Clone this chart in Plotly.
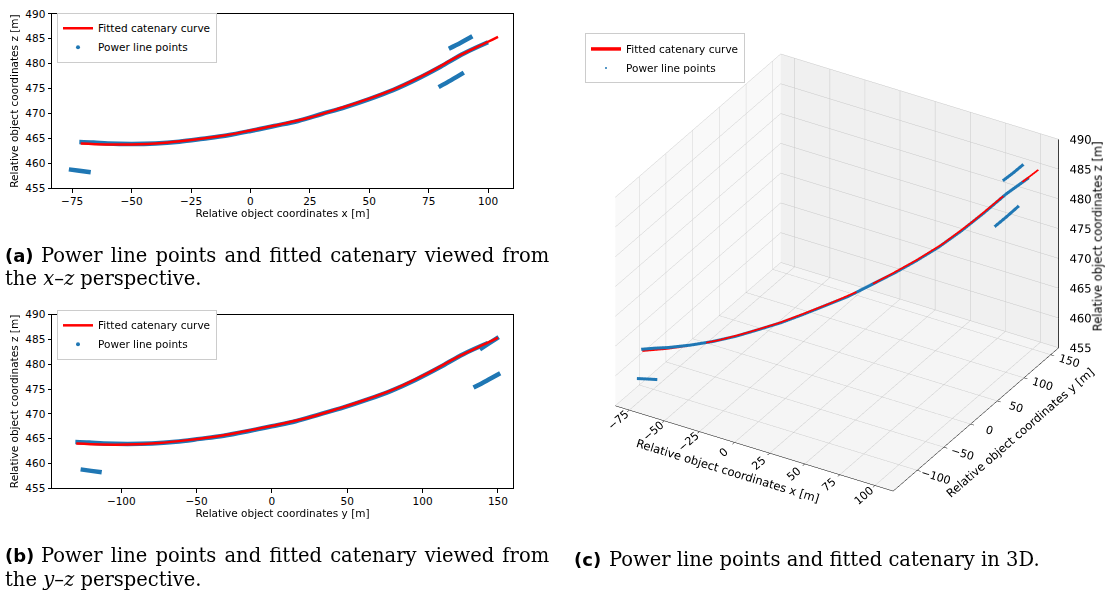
import plotly.graph_objects as go

# ---------------- data ----------------
# fitted catenary curve
cat_x = [-71.4, -61.0, -50.0, -37.0, -25.0, -11.0, 0.0, 12.5, 25.0, 38.0, 50.0, 62.0, 75.0, 87.5, 100.0, 104.2]
cat_y = [-129.9, -113.3, -95.8, -75.1, -56.0, -33.7, -16.1, 3.8, 23.9, 44.6, 63.6, 82.8, 103.5, 123.4, 143.6, 150.0]
cat_z = [464.0, 463.8, 463.8, 464.1, 464.7, 465.6, 466.6, 467.8, 469.2, 471.1, 473.0, 475.2, 478.2, 481.5, 484.4, 485.4]

# power line points: main conductor
main_x = [-72.0, -66.0, -60.0, -50.0, -40.0, -30.0, -20.0, -10.0, 0.0, 10.0, 20.0, 30.0, 40.0, 50.0, 60.0, 70.0, 80.0, 90.0, 100.0]
main_y = [-130.5, -121.3, -111.7, -95.8, -79.8, -63.9, -48.0, -32.0, -16.1, -0.2, 15.7, 31.7, 47.6, 63.6, 79.5, 95.5, 111.4, 127.3, 143.3]
main_z = [464.3, 464.2, 464.0, 463.9, 464.0, 464.35, 464.95, 465.6, 466.5, 467.5, 468.5, 469.9, 471.3, 472.9, 474.7, 476.9, 479.4, 482.1, 484.3]

# power line points: other conductor fragments
lowleft_x = [-76.4, -72.0, -67.2]
lowleft_y = [-127.0, -120.0, -113.0]
lowleft_z = [458.8, 458.5, 458.2]

upright_x = [83.5, 88.5, 93.4]
upright_y = [138.0, 144.0, 150.5]
upright_z = [483.0, 484.2, 485.5]

lowright_x = [79.2, 84.5, 89.8]
lowright_y = [133.8, 142.5, 151.5]
lowright_z = [475.3, 476.7, 478.2]

x_ticks = [-75, -50, -25, 0, 25, 50, 75, 100]
y_ticks = [-100, -50, 0, 50, 100, 150]
z_ticks = [455, 460, 465, 470, 475, 480, 485, 490]

X3 = [-85, 113]
Y3 = [-145, 165]
Z3 = [455, 490]

RED = "#ff0000"
BLUE = "#1f77b4"
FONT = "DejaVu Sans"
SERIF = "DejaVu Serif"

segments = [(main_x, main_y, main_z), (lowleft_x, lowleft_y, lowleft_z),
            (upright_x, upright_y, upright_z), (lowright_x, lowright_y, lowright_z)]

fig = go.Figure()

# ---- 2D panels ----
for (xa, ya, leg, horiz) in [("x", "y", "legend", "x"), ("x2", "y2", "legend2", "y")]:
    for sx, sy, sz in segments:
        fig.add_trace(go.Scatter(x=sx if horiz == "x" else sy, y=sz, mode="lines",
                                 line=dict(color=BLUE, width=4.5, shape="spline"), xaxis=xa, yaxis=ya,
                                 showlegend=False, hoverinfo="skip"))
    fig.add_trace(go.Scatter(x=cat_x if horiz == "x" else cat_y, y=cat_z, mode="lines",
                             line=dict(color=RED, width=2.5, shape="spline"), name="Fitted catenary curve",
                             xaxis=xa, yaxis=ya, legend=leg))
    fig.add_trace(go.Scatter(x=[None], y=[None], mode="markers",
                             marker=dict(color=BLUE, size=4), name="Power line points",
                             xaxis=xa, yaxis=ya, legend=leg))

# ---- 3D panel ----
for sx, sy, sz in segments:
    fig.add_trace(go.Scatter3d(x=sx, y=sy, z=sz, mode="lines", line=dict(color=BLUE, width=6),
                               showlegend=False, hoverinfo="skip", scene="scene"))
fig.add_trace(go.Scatter3d(x=cat_x, y=cat_y, z=cat_z, mode="lines", line=dict(color=RED, width=3.5),
                           name="Fitted catenary curve", scene="scene", legend="legend3"))
fig.add_trace(go.Scatter3d(x=[None], y=[None], z=[None], mode="markers",
                           marker=dict(color=BLUE, size=2), name="Power line points",
                           scene="scene", legend="legend3"))

# z axis drawn at the right vertical edge (x max, y max), matplotlib style
zx = [X3[1]] * len(z_ticks)
zy = [Y3[1]] * len(z_ticks)
fig.add_trace(go.Scatter3d(x=[X3[1], X3[1]], y=[Y3[1], Y3[1]], z=Z3, mode="lines",
                           line=dict(color="black", width=1.5), showlegend=False,
                           hoverinfo="skip", scene="scene"))
tx, ty, tz = [], [], []
for zt in z_ticks:
    tx += [X3[1], X3[1] + 0.03 * (X3[1] - X3[0]), None]
    ty += [Y3[1], Y3[1] + 0.03 * (Y3[1] - Y3[0]), None]
    tz += [zt, zt, None]
fig.add_trace(go.Scatter3d(x=tx, y=ty, z=tz, mode="lines", line=dict(color="black", width=1.5),
                           showlegend=False, hoverinfo="skip", scene="scene"))
fig.add_trace(go.Scatter3d(x=zx, y=zy, z=z_ticks, mode="text",
                           text=["    " + str(v) for v in z_ticks], textposition="middle right",
                           textfont=dict(family=FONT, size=11.5, color="black"),
                           showlegend=False, hoverinfo="skip", scene="scene"))

W, H = 1106, 603
def px_x(p):
    return p / W
def px_y(p):
    return 1 - p / H

axis2d = dict(showline=True, mirror=True, linecolor="black", linewidth=1, ticks="outside",
              ticklen=3.5, tickwidth=0.8, tickcolor="black", showgrid=False, zeroline=False,
              tickfont=dict(family=FONT, size=10.5, color="black"),
              title_font=dict(family=FONT, size=10.5, color="black"))

leg_common = dict(bgcolor="white", bordercolor="#cccccc", borderwidth=1,
                  font=dict(family=FONT, size=10.5, color="black"),
                  xanchor="left", yanchor="top", itemwidth=30, tracegroupgap=0)

axis3d = dict(showbackground=True, gridcolor="rgb(200,200,200)", gridwidth=1,
              showline=True, linecolor="black", linewidth=1, ticks="outside", ticklen=4,
              tickcolor="black", zeroline=False, showspikes=False,
              tickfont=dict(family=FONT, size=11.5, color="black"),
              title_font=dict(family=FONT, size=11.5, color="black"))

fig.update_layout(
    width=W, height=H, margin=dict(l=0, r=0, t=0, b=0),
    paper_bgcolor="white", plot_bgcolor="white",
    xaxis=dict(axis2d, domain=[px_x(52), px_x(513)], range=[-83.5, 110.5], tickvals=x_ticks,
               title_text="Relative object coordinates x [m]", anchor="y", title_standoff=2),
    yaxis=dict(axis2d, domain=[px_y(186), px_y(8)], range=[455, 490], tickvals=z_ticks,
               title_text="Relative object coordinates z [m]", anchor="x", title_standoff=4),
    xaxis2=dict(axis2d, domain=[px_x(52), px_x(513)], range=[-146, 160], tickvals=y_ticks,
                title_text="Relative object coordinates y [m]", anchor="y2", title_standoff=2),
    yaxis2=dict(axis2d, domain=[px_y(492), px_y(315)], range=[455, 490], tickvals=z_ticks,
                title_text="Relative object coordinates z [m]", anchor="x2", title_standoff=4),
    legend=dict(leg_common, x=px_x(57), y=px_y(7)),
    legend2=dict(leg_common, x=px_x(57), y=px_y(310)),
    legend3=dict(leg_common, x=px_x(585), y=px_y(28)),
    scene=dict(
        domain=dict(x=[0.502, 1.0], y=[0.064, 1.0]),
        xaxis=dict(axis3d, range=X3, tickvals=x_ticks, backgroundcolor="rgb(249,249,249)",
                   title_text="Relative object coordinates x [m]"),
        yaxis=dict(axis3d, range=Y3, tickvals=y_ticks, backgroundcolor="rgb(240,240,240)",
                   title_text="Relative object coordinates y [m]"),
        zaxis=dict(axis3d, range=Z3, tickvals=z_ticks, backgroundcolor="rgb(245,245,245)",
                   showticklabels=False, ticks="", showline=False, title_text=""),
        aspectmode="manual", aspectratio=dict(x=1.17, y=1.17, z=0.88),
        camera=dict(eye=dict(x=0.866, y=-1.5, z=1.0), center=dict(x=-0.02, y=-0.012, z=-0.042),
                    up=dict(x=0, y=0, z=1), projection=dict(type="orthographic")),
    ),
)

# ---- captions / z title ----
def cap(x, y, text, family, size, angle=0, xanchor="left"):
    fig.add_annotation(xref="paper", yref="paper", x=px_x(x), y=px_y(y), xanchor=xanchor,
                       yanchor="middle", showarrow=False, text=text, textangle=angle,
                       font=dict(family=family, size=size, color="black"))

HS = " \u200a"  # slightly widened inter-word space (justified line)
line1 = HS.join("Power line points and fitted catenary viewed from".split(" "))

cap(1098, 235, "Relative object coordinates z [m]", FONT, 11.5, angle=-90, xanchor="center")

cap(3, 255, "<b>(a)</b>", FONT, 18)
cap(39, 255, line1, SERIF, 19.5)
cap(3, 278, "the <i>x</i>–<i>z</i> perspective.", SERIF, 19.5)
cap(3, 561, "<b>(b)</b>", FONT, 18)
cap(39, 561, line1, SERIF, 19.5)
cap(3, 585, "the <i>y</i>–<i>z</i> perspective.", SERIF, 19.5)
cap(572, 565, "<b>(c)</b>", FONT, 18)
cap(607, 565, "Power line points and fitted catenary in 3D.", SERIF, 19.5)

fig.write_html("out.html")
